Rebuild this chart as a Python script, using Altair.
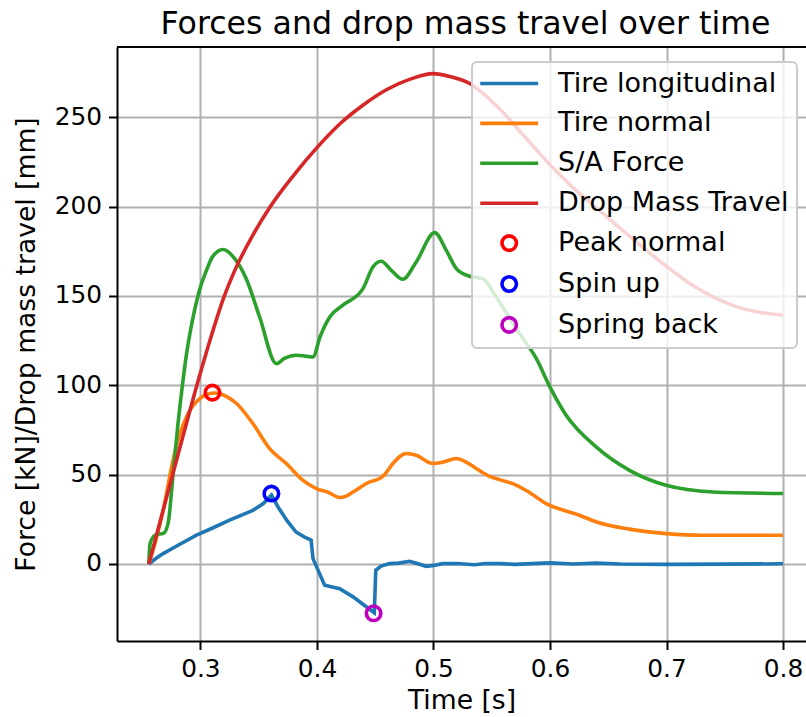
import altair as alt
import pandas as pd

# ---------------- data ----------------
series_names = ["Tire longitudinal", "Tire normal", "S/A Force", "Drop Mass Travel",
                "Peak normal", "Spin up", "Spring back"]
series_colors = ["#1f77b4", "#ff7f0e", "#2ca02c", "#d62728", "#ff0000", "#0000ff", "#bf00bf"]

long_t = [0.2557, 0.262, 0.268, 0.280, 0.2966, 0.310, 0.325, 0.345, 0.354, 0.361, 0.3666,
          0.374, 0.382, 0.389, 0.395, 0.3966, 0.4066, 0.4195, 0.431, 0.440, 0.4492, 0.4505,
          0.455, 0.4624, 0.470, 0.4795, 0.486, 0.4938, 0.500, 0.508, 0.520, 0.535, 0.545,
          0.557, 0.570, 0.600, 0.620, 0.640, 0.660, 0.700, 0.750, 0.800]
long_v = [0, 3.2, 5.8, 10.2, 16.1, 20, 24.5, 30, 33.8, 38.6, 31.9,
          24.5, 17.9, 15.2, 13.3, 3.0, -11.9, -13.8, -18.4, -22.8, -27.3, -3.5,
          -1.2, 0.2, 0.5, 1.5, 0.3, -1.3, -0.8, 0.2, 0.3, -0.4, 0.3,
          0.2, -0.2, 0.6, 0.0, 0.5, 0.0, -0.2, -0.1, 0.1]

norm_t = [0.2557, 0.262, 0.268, 0.2765, 0.282, 0.288, 0.2994, 0.306, 0.313, 0.3166, 0.323,
          0.331, 0.345, 0.3594, 0.3737, 0.388, 0.3995, 0.410, 0.4195, 0.425, 0.431, 0.4452,
          0.4538, 0.458, 0.4652, 0.4767, 0.4852, 0.4995, 0.508, 0.5196, 0.528, 0.5367,
          0.5467, 0.5567, 0.568, 0.580, 0.5967, 0.6253, 0.640, 0.668, 0.700, 0.731, 0.800]
norm_v = [0, 14, 30, 58, 72, 82.3, 92.5, 95, 95.7, 95.3, 93.5,
          89.8, 78.6, 64.6, 56.2, 46.8, 42.2, 40, 37.2, 38, 40.3, 45.9,
          47.8, 50, 56.2, 61.8, 60.8, 56.2, 57, 59, 57, 53.4,
          49.5, 47.2, 45, 41, 33.8, 27.3, 23.5, 19.5, 17, 16.1, 16.1]

sa_t = [0.2557, 0.2565, 0.2575, 0.2623, 0.268, 0.2722, 0.2765, 0.2805, 0.284, 0.2875,
        0.291, 0.295, 0.300, 0.305, 0.310, 0.315, 0.3194, 0.3294, 0.3394, 0.3508,
        0.3652, 0.372, 0.3823, 0.390, 0.3966, 0.4026, 0.411, 0.4223, 0.4395, 0.448,
        0.4552, 0.4638, 0.4737, 0.4852, 0.501, 0.511, 0.5196, 0.531, 0.5424, 0.5538,
        0.5739, 0.5882, 0.600, 0.6139, 0.6396, 0.6682, 0.6997, 0.7396, 0.800]
sa_v = [0, 10, 12.8, 16.5, 17, 22.6, 50, 77, 97, 115,
        129, 142, 155, 164, 171.5, 175, 176, 170.9, 159.5, 138.2,
        112.1, 115, 116.8, 116.3, 115.8, 127, 138.2, 144.8, 154.1, 166.2,
        169.4, 164.3, 159.3, 169, 185.4, 175.5, 165.3, 161, 159.7, 149.4,
        128.9, 115, 99, 83.2, 65.5, 52.4, 44, 40.3, 39.4]

dm_t = [0.2557, 0.270, 0.285, 0.300, 0.310, 0.320, 0.330, 0.345, 0.360, 0.380, 0.400,
        0.420, 0.440, 0.460, 0.480, 0.4995, 0.515, 0.531, 0.545, 0.560, 0.575, 0.590,
        0.605, 0.620, 0.640, 0.660, 0.680, 0.700, 0.720, 0.740, 0.760, 0.780, 0.800]
dm_v = [0, 35, 71.5, 107, 129, 149, 165, 184, 200, 217.5, 233,
        246.5, 257, 265.5, 271.3, 274.4, 272.6, 268.9, 262, 252.5, 241.5, 230.5,
        220, 210.5, 199.2, 188, 177, 166.5, 157, 149.5, 144, 140.8, 139.2]

marker_t = [0.3103, 0.3609, 0.4486]
marker_v = [95.9, 39.4, -27.6]
marker_names = ["Peak normal", "Spin up", "Spring back"]

x_ticks = [0.3, 0.4, 0.5, 0.6, 0.7, 0.8]
y_ticks = [0, 50, 100, 150, 200, 250]

# ---------------- build tables ----------------
line_sets = [(long_t, long_v, series_colors[0], "linear"),
             (norm_t, norm_v, series_colors[1], "monotone"),
             (sa_t, sa_v, series_colors[2], "monotone"),
             (dm_t, dm_v, series_colors[3], "monotone")]

marker_df = pd.DataFrame({"time": marker_t, "value": marker_v, "series": marker_names})

FONT = "DejaVu Sans"
W, H = 689, 594

x_enc = alt.X("time:Q",
              scale=alt.Scale(domain=[0.2284, 0.8197], nice=False, zero=False),
              axis=alt.Axis(values=x_ticks, format=".1f", title="Time [s]"))
y_enc = alt.Y("value:Q",
              scale=alt.Scale(domain=[-43.1, 289.3], nice=False, zero=False),
              axis=alt.Axis(values=y_ticks, title="Force [kN]/Drop mass travel [mm]"))

layers = []
for ts, vs, col, interp in line_sets:
    df = pd.DataFrame({"time": ts, "value": vs})
    layers.append(
        alt.Chart(df).mark_line(interpolate=interp, strokeWidth=3.6, color=col, clip=True).encode(
            x=x_enc, y=y_enc,
        )
    )

line_sym = "M-4,0H4"
leg = alt.Legend(title=None)
points = alt.Chart(marker_df).mark_point(filled=False, opacity=1).encode(
    x=x_enc, y=y_enc,
    color=alt.Color("series:N", scale=alt.Scale(domain=series_names, range=series_colors),
                    legend=leg),
    shape=alt.Shape("series:N", scale=alt.Scale(domain=series_names,
                                                  range=[line_sym] * 4 + ["circle"] * 3),
                    legend=leg),
    size=alt.Size("series:N", scale=alt.Scale(domain=series_names,
                                                range=[210] * 4 + [135] * 3),
                  legend=leg),
    strokeWidth=alt.StrokeWidth("series:N", scale=alt.Scale(domain=series_names,
                                                             range=[3.6] * 4 + [2.2] * 3),
                                legend=leg),
)

frame_top = alt.Chart(marker_df).mark_rule(color="black", strokeWidth=2).encode(
    x=alt.value(0), x2=alt.value(W), y=alt.value(0)
)

chart = alt.layer(*layers, points, frame_top).properties(
    width=W, height=H,
    padding={"left": 117, "top": 47, "right": 0, "bottom": 76},
    autosize=alt.AutoSizeParams(type="none"),
    title=alt.Title("Forces and drop mass travel over time", font=FONT, fontSize=31.6,
                    fontWeight="normal", color="black", anchor="middle", frame="group",
                    dx=4, offset=5),
).configure_view(stroke=None).configure_axis(
    labelFont=FONT, labelFontSize=24.8, labelColor="black",
    titleFont=FONT, titleFontSize=26.6, titleFontWeight="normal", titleColor="black",
    domainColor="black", domainWidth=2, tickColor="black", tickWidth=2, tickSize=8.5,
    gridColor="#b0b0b0", gridWidth=2, grid=True, labelPadding=7,
).configure_axisX(titlePadding=6).configure_axisY(titlePadding=14).configure_legend(
    orient="none", legendX=355, legendY=15,
    labelFont=FONT, labelFontSize=27, labelColor="black",
    padding=8, rowPadding=11.9, symbolOffset=15.7, labelOffset=35.4,
    fillColor="rgba(255,255,255,0.8)", strokeColor="#cccccc", cornerRadius=5,
    strokeWidth=2, labelLimit=400,
)

chart.save("out.html", embed_options={"renderer": "svg", "actions": False})
